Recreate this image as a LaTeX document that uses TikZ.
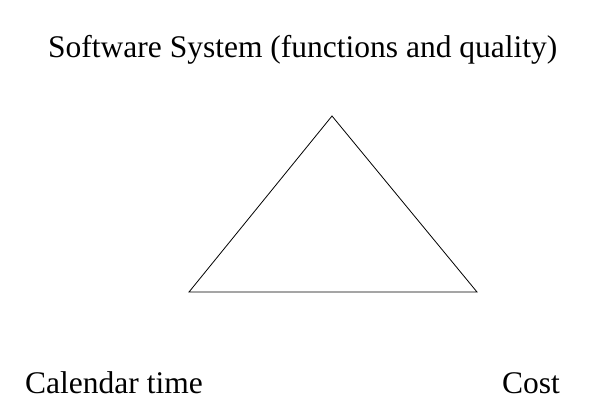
\documentclass[tikz,border=0pt]{standalone}
\usepackage{fontspec}
\setmainfont{Liberation Serif}
\begin{document}
\begin{tikzpicture}[x=1pt,y=-1pt,
  lbl/.style={inner sep=0pt,anchor=base west,font=\fontsize{31.5}{34}\selectfont}]
\useasboundingbox (0,0) rectangle (596,409);
\coordinate (top) at (332,116);
\coordinate (bl) at (189,292);
\coordinate (br) at (477,292);
\draw[line width=0.8pt] (top) -- (br) -- (bl) -- cycle;
\node[lbl] (sys) at (48,58) {Software System (functions and quality)};
\node[lbl] (cal) at (25,393) {Calendar time};
\node[lbl] (cost) at (502,393) {Cost};
\end{tikzpicture}
\end{document}
